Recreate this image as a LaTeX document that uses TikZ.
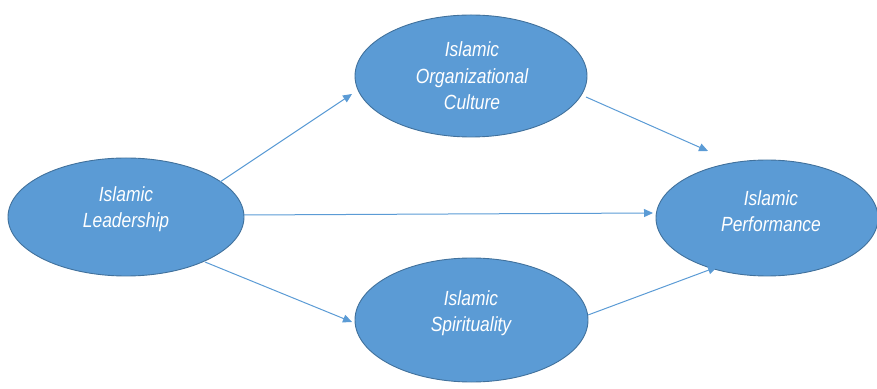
\documentclass[tikz,border=0pt]{standalone}
\usepackage{fontspec}
\setmainfont{Liberation Sans}
\usetikzlibrary{arrows.meta,shapes.geometric}
\definecolor{efill}{HTML}{5B9BD5}
\definecolor{eline}{HTML}{41719C}
\definecolor{aline}{HTML}{5B9BD5}
\newfontfamily\labfont[FakeStretch=0.85]{Liberation Sans}
\tikzset{
  oval/.style={ellipse, draw=eline, fill=efill, line width=0.9pt, inner sep=0pt},
  lab/.style={text=white, align=center, font=\labfont\itshape\fontsize{20.5}{26.5}\selectfont},
  conn/.style={draw=aline, line width=1pt, -{Triangle[length=9pt,width=8pt]}}
}
\begin{document}
\begin{tikzpicture}[x=1pt,y=1pt]
\useasboundingbox (0,0) rectangle (877,388);
% ellipses
\node[oval, minimum width=236pt, minimum height=118pt] (L) at (126,171) {};
\node[oval, minimum width=232pt, minimum height=122pt] (T) at (471,312) {};
\node[oval, minimum width=233pt, minimum height=124pt] (B) at (471.5,68) {};
\node[oval, minimum width=222pt, minimum height=116pt] (R) at (767,170) {};
% labels
\node[lab] (tL) at (126,179) {Islamic\\Leadership};
\node[lab] (tT) at (472,312) {Islamic\\Organizational\\Culture};
\node[lab] (tB) at (471,75) {Islamic\\Spirituality};
\node[lab] (tR) at (771,177) {Islamic\\Performance};
% connector ends
\coordinate (a1) at (220,206);
\coordinate (a2) at (352,294);
\coordinate (b1) at (244,173);
\coordinate (b2) at (653,175);
\coordinate (c1) at (205,126);
\coordinate (c2) at (352,66);
\coordinate (d1) at (586,291);
\coordinate (d2) at (708,237);
\coordinate (e1) at (588,73);
\coordinate (e2) at (717,121);
\draw[conn] (a1) -- (a2);
\draw[conn] (b1) -- (b2);
\draw[conn] (c1) -- (c2);
\draw[conn] (d1) -- (d2);
\draw[conn] (e1) -- (e2);
\end{tikzpicture}
\end{document}
